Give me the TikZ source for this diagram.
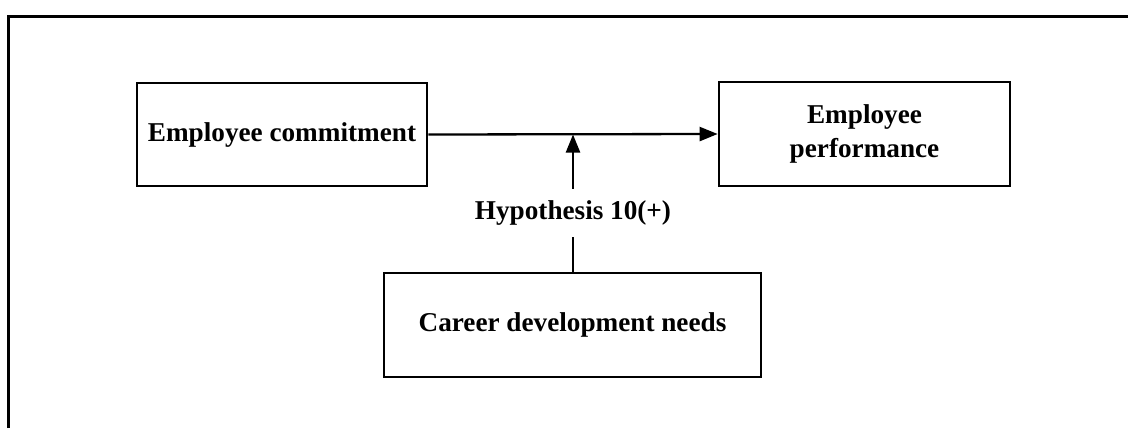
\documentclass[tikz,border=0pt]{standalone}
\usepackage{fontspec}
\setmainfont{Liberation Serif}
\usetikzlibrary{arrows.meta}
\begin{document}
\begin{tikzpicture}[x=0.5pt,y=-0.5pt,
  box/.style={draw,line width=1.35pt,rectangle,align=center,
    font=\fontsize{13.6}{17}\selectfont\bfseries,inner sep=0pt},
  link/.style={line width=1.15pt},
  tip/.style={-{Triangle[length=9pt,width=7pt]}}]
  \useasboundingbox (0,0) rectangle (1128,428);
  % outer frame (only left and top edges fall inside the page)
  \draw[line width=1.6pt] (8.5,428) -- (8.5,16.5) -- (1128,16.5);
  % boxes
  \node[box,minimum width=145pt,minimum height=51.5pt] (commit) at (282,134.5) {Employee commitment};
  \node[box,minimum width=145.5pt,minimum height=52pt] (perf) at (864.5,134) {Employee\\performance};
  \node[box,minimum width=188.5pt,minimum height=52pt] (career) at (572.5,325) {Career development needs};
  % moderation label and meeting point on the main path
  \node[font=\fontsize{13.6}{17}\selectfont\bfseries,inner xsep=2pt,inner ysep=0pt,minimum height=24pt] (hyp) at (573,213) {Hypothesis 10(+)};
  \coordinate (meet) at (573,134.5);
  % connectors
  \draw[link,tip] (commit.east) -- (perf.west);
  \draw[link] (career.north -| hyp) -- (hyp.south);
  \draw[link,tip] (hyp.north) -- (meet);
\end{tikzpicture}
\end{document}
